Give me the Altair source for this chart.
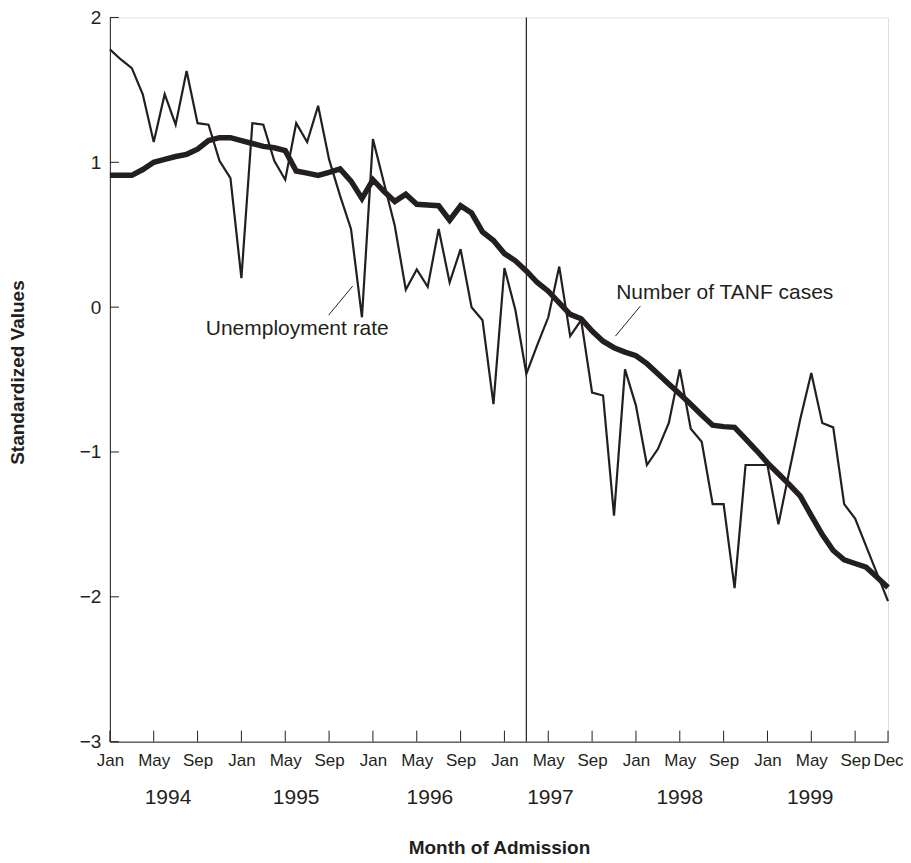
import altair as alt
import pandas as pd

# ---- data ----
month_index = list(range(72))  # Jan 1994 .. Dec 1999
unemployment = [
    1.78, 1.71, 1.65, 1.47, 1.14, 1.47, 1.26, 1.63, 1.27, 1.26, 1.01, 0.89,
    0.20, 1.27, 1.26, 1.01, 0.88, 1.27, 1.14, 1.39, 1.02, 0.77, 0.54, -0.07,
    1.16, 0.86, 0.56, 0.12, 0.26, 0.14, 0.54, 0.17, 0.40, 0.00, -0.09, -0.67,
    0.27, -0.02, -0.46, -0.26, -0.07, 0.28, -0.20, -0.09, -0.59, -0.61, -1.44, -0.43,
    -0.68, -1.09, -0.98, -0.80, -0.43, -0.84, -0.93, -1.36, -1.36, -1.94, -1.09, -1.09,
    -1.09, -1.50, -1.13, -0.77, -0.455, -0.80, -0.83, -1.36, -1.46, -1.65, -1.84, -2.03,
]
tanf_cases = [
    0.91, 0.91, 0.91, 0.95, 1.00, 1.02, 1.04, 1.055, 1.09, 1.15, 1.17, 1.17,
    1.15, 1.13, 1.11, 1.10, 1.08, 0.94, 0.925, 0.91, 0.93, 0.955, 0.87, 0.75,
    0.88, 0.80, 0.73, 0.78, 0.71, 0.705, 0.70, 0.60, 0.70, 0.65, 0.52, 0.46,
    0.37, 0.32, 0.25, 0.17, 0.11, 0.03, -0.05, -0.08, -0.165, -0.235, -0.28, -0.31,
    -0.335, -0.39, -0.46, -0.53, -0.60, -0.67, -0.745, -0.815, -0.825, -0.83, -0.91, -0.99,
    -1.075, -1.15, -1.225, -1.305, -1.44, -1.57, -1.68, -1.745, -1.77, -1.795, -1.865, -1.935,
]
tick_months = [0, 4, 8, 12, 16, 20, 24, 28, 32, 36, 40, 44, 48, 52, 56, 60, 64, 68, 71]
tick_names = ["Jan", "May", "Sep"]
last_tick_name = "Dec"
years = ["1994", "1995", "1996", "1997", "1998", "1999"]
year_label_month = [5.3, 17.0, 29.2, 40.2, 52.0, 63.9]
y_ticks = [-3, -2, -1, 0, 1, 2]
policy_month = [38]

ann_text = ["Unemployment rate", "Number of TANF cases"]
ann_month = [8.75, 46.2]
ann_value = [-0.15, 0.10]
leader_m1 = [19.96, 46.13]
leader_v1 = [-0.055, -0.20]
leader_m2 = [22.15, 48.4]
leader_v2 = [0.145, 0.007]

# ---- layout / style ----
W, H = 779, 725
INK = "#231f20"
FONT = "Liberation Sans"

series = pd.DataFrame({"m": month_index, "u": unemployment, "t": tanf_cases})
ticks_x = pd.DataFrame({"m": tick_months})
ticks_y = pd.DataFrame({"v": y_ticks})
year_df = pd.DataFrame({"m": year_label_month, "year": years})
policy_df = pd.DataFrame({"m": policy_month, "top": [2], "bottom": [-3]})
ann_df = pd.DataFrame({"text": ann_text, "m": ann_month, "v": ann_value})
leader_df = pd.DataFrame({"m1": leader_m1, "v1": leader_v1, "m2": leader_m2, "v2": leader_v2})

name_list = "[" + ",".join("'%s'" % n for n in tick_names) + "]"
label_expr = "datum.value == 71 ? '%s' : %s[floor((datum.value %% 12) / 4)]" % (last_tick_name, name_list)

xscale = alt.Scale(domain=[0, 71], nice=False, zero=False)
yscale = alt.Scale(domain=[-3, 2], nice=False, zero=False)

x_axis = alt.Axis(
    values=tick_months, labelExpr=label_expr, ticks=False, tickSize=0, grid=False,
    labelPadding=11, labelFontSize=17, labelFont=FONT, labelColor=INK,
    labelOverlap=False, labelBound=False, labelFlush=False,
    domainColor=INK, domainWidth=1,
    title="Month of Admission", titleFont=FONT, titleFontSize=19, titleFontWeight="bold",
    titleColor=INK, titleY=106, titleBaseline="middle",
)
y_axis = alt.Axis(
    values=y_ticks, format="d", ticks=False, tickSize=0, grid=False,
    labelPadding=9, labelFontSize=19, labelFont=FONT, labelColor=INK,
    domainColor=INK, domainWidth=1,
    title="Standardized Values", titleFont=FONT, titleFontSize=19, titleFontWeight="bold",
    titleColor=INK, titleX=-92, titleY=355, titleBaseline="middle", titleAngle=-90,
)

base = alt.Chart(series)

thin = base.mark_line(color=INK, strokeWidth=2.2).encode(
    x=alt.X("m:Q", scale=xscale, axis=x_axis),
    y=alt.Y("u:Q", scale=yscale, axis=y_axis),
)
thick = base.mark_line(color=INK, strokeWidth=5.5).encode(
    x=alt.X("m:Q", scale=xscale),
    y=alt.Y("t:Q", scale=yscale),
)

policy = alt.Chart(policy_df).mark_rule(color=INK, strokeWidth=1.2).encode(
    x=alt.X("m:Q", scale=xscale), y=alt.Y("top:Q", scale=yscale), y2="bottom:Q"
)

xt = alt.Chart(ticks_x).mark_rule(color=INK, strokeWidth=1).encode(
    x=alt.X("m:Q", scale=xscale), y=alt.value(H), y2=alt.value(H - 11)
)
yt = alt.Chart(ticks_y).mark_rule(color=INK, strokeWidth=1).encode(
    y=alt.Y("v:Q", scale=yscale), x=alt.value(0), x2=alt.value(9)
)

year_text = alt.Chart(year_df).mark_text(
    font=FONT, fontSize=21, color=INK, baseline="middle", align="center"
).encode(x=alt.X("m:Q", scale=xscale), y=alt.value(H + 56), text="year:N")

ann = alt.Chart(ann_df).mark_text(
    font=FONT, fontSize=21, color=INK, baseline="middle", align="left"
).encode(x=alt.X("m:Q", scale=xscale), y=alt.Y("v:Q", scale=yscale), text="text:N")

leaders = alt.Chart(leader_df).mark_rule(color=INK, strokeWidth=1).encode(
    x=alt.X("m1:Q", scale=xscale), y=alt.Y("v1:Q", scale=yscale),
    x2="m2:Q", y2="v2:Q",
)

chart = alt.layer(thin, thick, policy, xt, yt, year_text, ann, leaders).properties(
    width=W, height=H,
    autosize=alt.AutoSizeParams(type="none"),
    padding={"left": 102, "top": 9, "right": 15, "bottom": 120},
).configure_view(stroke=None).configure(background="white")

chart.save("out.html", embed_options={"renderer": "svg", "actions": False})
